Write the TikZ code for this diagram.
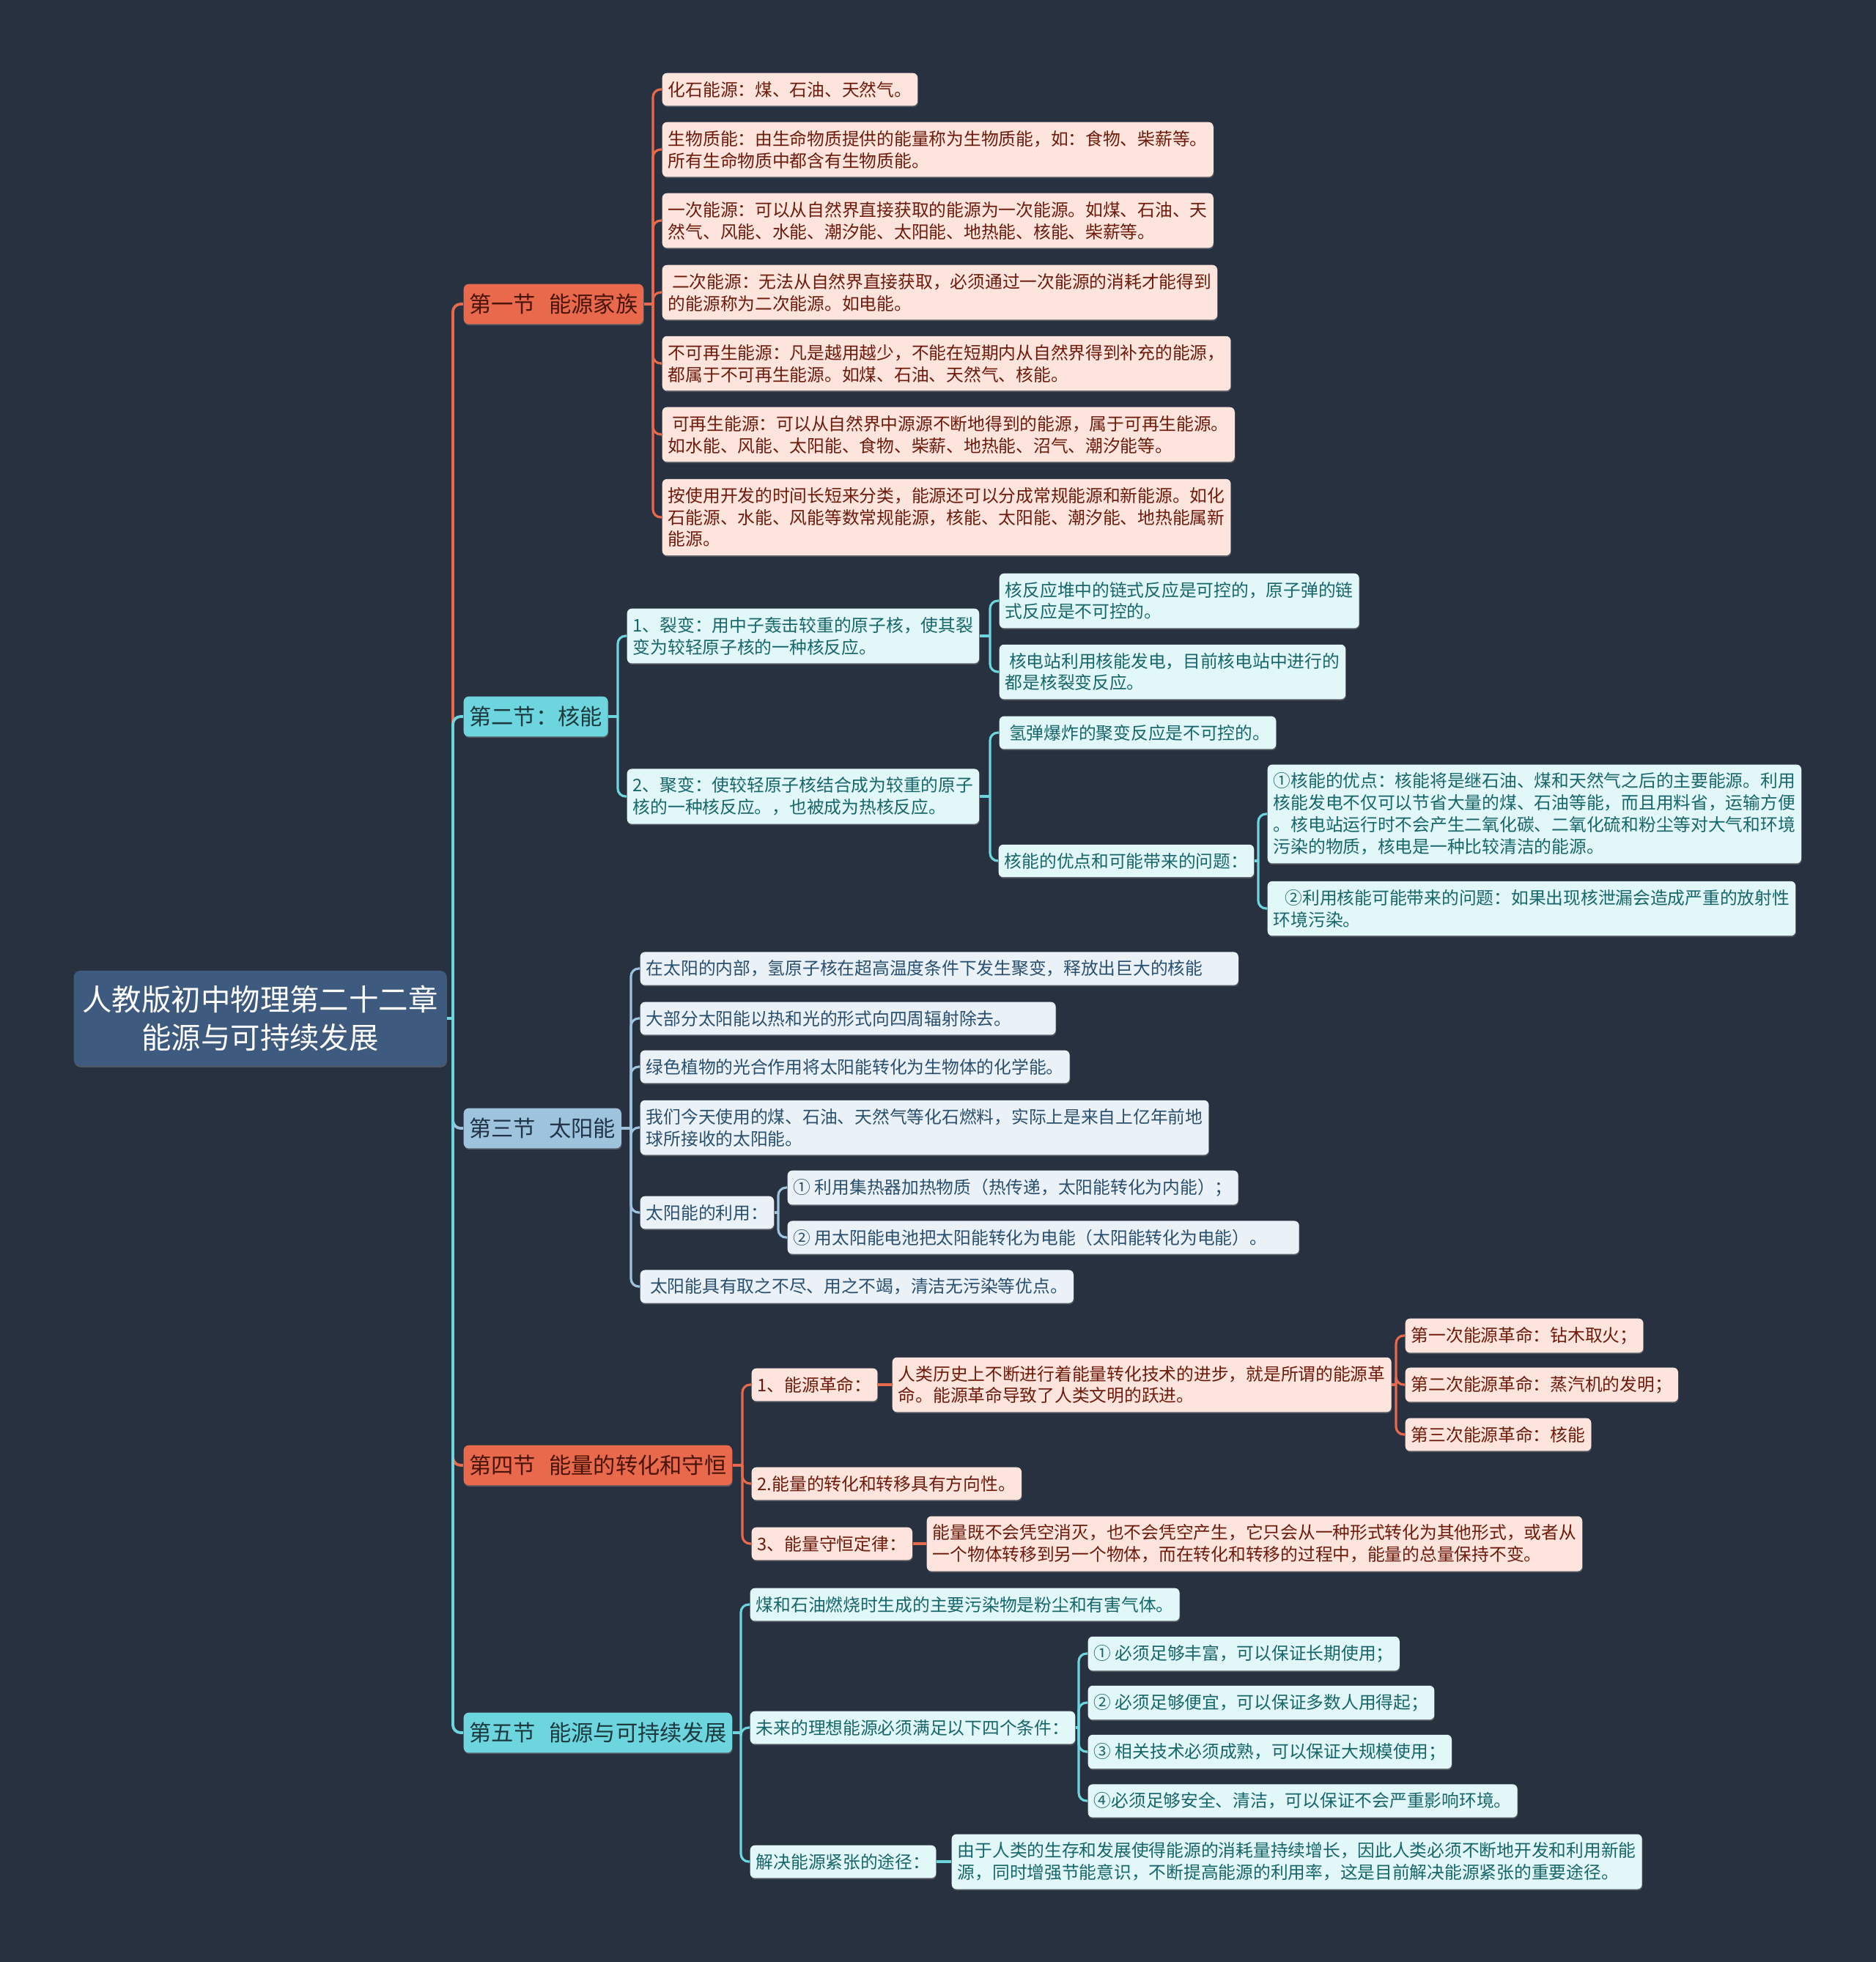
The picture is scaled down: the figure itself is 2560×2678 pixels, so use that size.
\documentclass[tikz,border=0pt]{standalone}
\usepackage{fontspec}
\newfontfamily\cjk{Noto Sans CJK SC}
\usepackage{tikz}
\usetikzlibrary{shadows}
\definecolor{bgdark}{HTML}{283140}
\definecolor{rootblue}{HTML}{3E5A7E}
\definecolor{secorange}{HTML}{E8694B}
\definecolor{leaforange}{HTML}{FDE4DC}
\definecolor{txtorange}{HTML}{6E1B0C}
\definecolor{sectxtorange}{HTML}{4A1408}
\definecolor{secteal}{HTML}{6DD5DE}
\definecolor{leafteal}{HTML}{E2F7F8}
\definecolor{txtteal}{HTML}{17666B}
\definecolor{sectxtteal}{HTML}{1C3A40}
\definecolor{secgrey}{HTML}{9DC3DD}
\definecolor{leafgrey}{HTML}{EAF2F8}
\definecolor{txtgrey}{HTML}{2A4F6E}
\definecolor{sectxtgrey}{HTML}{213447}

\begin{document}
\begin{tikzpicture}[x=0.01cm, y=-0.01cm,
        leafbox/.style={anchor=west, align=left, rounded corners=1.8pt, inner xsep=2.3pt, inner ysep=3.2pt,
            font=\cjk\fontsize{6.75}{8.5}\selectfont,
            drop shadow={shadow xshift=0.2pt, shadow yshift=-0.5pt, opacity=0.5}},
        leafO/.style={leafbox, fill=leaforange, text=txtorange},
        leafT/.style={leafbox, fill=leafteal, text=txtteal},
        leafG/.style={leafbox, fill=leafgrey, text=txtgrey},
        secbox/.style={anchor=west, rounded corners=2pt, inner xsep=2.2pt, inner ysep=3.8pt,
            font=\cjk\fontsize{8.6}{10}\selectfont,
            drop shadow={shadow xshift=0.2pt, shadow yshift=-0.5pt, opacity=0.5}},
        secO/.style={secbox, fill=secorange, text=sectxtorange},
        secT/.style={secbox, fill=secteal, text=sectxtteal},
        secG/.style={secbox, fill=secgrey, text=sectxtgrey},
        lineO/.style={draw=secorange, line width=0.9pt, rounded corners=3pt},
        lineT/.style={draw=secteal, line width=0.9pt, rounded corners=3pt},
        lineG/.style={draw=secgrey, line width=0.9pt, rounded corners=3pt},
    ]
        % Background
        \fill[bgdark] (0,0) rectangle (2560,2678);
        \useasboundingbox (0,0) rectangle (2560,2678);

        % Root topic
        \node[anchor=west, align=center, rounded corners=2.5pt, fill=rootblue, text=white,
            minimum width=5.08cm, minimum height=1.3cm, font=\cjk\fontsize{11.5}{15}\selectfont,
            drop shadow={shadow xshift=0.2pt, shadow yshift=-0.5pt, opacity=0.5}]
            (root) at (100,1390) {人教版初中物理第二十二章\\能源与可持续发展};

        % Sections
        \node[secO] (s1) at (632,415) {第一节\hspace{.6em}能源家族};
        \node[secT] (s2) at (632,978) {第二节：核能};
        \node[secG] (s3) at (632,1540) {第三节\hspace{.6em}太阳能};
        \node[secO] (s4) at (632,2000) {第四节\hspace{.6em}能量的转化和守恒};
        \node[secT] (s5) at (632,2365) {第五节\hspace{.6em}能源与可持续发展};

        % Section 1: energy family
        \node[leafO] (a1) at (903,122) {化石能源：煤、石油、天然气。};
        \node[leafO] (a2) at (903,204) {生物质能：由生命物质提供的能量称为生物质能，如：食物、柴薪等。\\所有生命物质中都含有生物质能。};
        \node[leafO] (a3) at (903,301) {一次能源：可以从自然界直接获取的能源为一次能源。如煤、石油、天\\然气、风能、水能、潮汐能、太阳能、地热能、核能、柴薪等。};
        \node[leafO] (a4) at (903,399) {~二次能源：无法从自然界直接获取，必须通过一次能源的消耗才能得到\\的能源称为二次能源。如电能。};
        \node[leafO] (a5) at (903,496) {不可再生能源：凡是越用越少，不能在短期内从自然界得到补充的能源，\\都属于不可再生能源。如煤、石油、天然气、核能。};
        \node[leafO] (a6) at (903,593) {~可再生能源：可以从自然界中源源不断地得到的能源，属于可再生能源。\\如水能、风能、太阳能、食物、柴薪、地热能、沼气、潮汐能等。};
        \node[leafO] (a7) at (903,706) {按使用开发的时间长短来分类，能源还可以分成常规能源和新能源。如化\\石能源、水能、风能等数常规能源，核能、太阳能、潮汐能、地热能属新\\能源。};

        % Section 2: nuclear energy
        \node[leafT] (n1) at (855,868) {1、裂变：用中子轰击较重的原子核，使其裂\\变为较轻原子核的一种核反应。};
        \node[leafT] (n1a) at (1363,820) {核反应堆中的链式反应是可控的，原子弹的链\\式反应是不可控的。};
        \node[leafT] (n1b) at (1363,917) {~核电站利用核能发电，目前核电站中进行的\hspace{.6em}\\都是核裂变反应。};
        \node[leafT] (n2) at (855,1087) {2、聚变：使较轻原子核结合成为较重的原子\\核的一种核反应。，也被成为热核反应。};
        \node[leafT] (n2a) at (1363,1000) {~氢弹爆炸的聚变反应是不可控的。};
        \node[leafT] (n2b) at (1362,1175) {核能的优点和可能带来的问题：};
        \node[leafT] (n2b1) at (1729,1111) {①核能的优点：核能将是继石油、煤和天然气之后的主要能源。利用\\核能发电不仅可以节省大量的煤、石油等能，而且用料省，运输方便\\。核电站运行时不会产生二氧化碳、二氧化硫和粉尘等对大气和环境\\污染的物质，核电是一种比较清洁的能源。};
        \node[leafT] (n2b2) at (1729,1240) {~~~②利用核能可能带来的问题：如果出现核泄漏会造成严重的放射性\\环境污染。};

        % Section 3: solar energy
        \node[leafG] (t1) at (873,1322) {在太阳的内部，氢原子核在超高温度条件下发生聚变，释放出巨大的核能\hspace{1.7em}};
        \node[leafG] (t2) at (873,1390) {大部分太阳能以热和光的形式向四周辐射除去。\hspace{2.2em}};
        \node[leafG] (t3) at (873,1456) {绿色植物的光合作用将太阳能转化为生物体的化学能。};
        \node[leafG] (t4) at (873,1539) {我们今天使用的煤、石油、天然气等化石燃料，实际上是来自上亿年前地\\球所接收的太阳能。};
        \node[leafG] (t5) at (873,1655) {太阳能的利用：};
        \node[leafG] (t5a) at (1074,1621) {① 利用集热器加热物质（热传递，太阳能转化为内能）；};
        \node[leafG] (t5b) at (1074,1689) {② 用太阳能电池把太阳能转化为电能（太阳能转化为电能）。\hspace{1.5em}};
        \node[leafG] (t6) at (873,1756) {~太阳能具有取之不尽、用之不竭，清洁无污染等优点。};

        % Section 4: conversion and conservation
        \node[leafO] (f1) at (1025,1890) {1、能源革命：};
        \node[leafO] (f1a) at (1217,1890) {人类历史上不断进行着能量转化技术的进步，就是所谓的能源革\\命。能源革命导致了人类文明的跃进。};
        \node[leafO] (f1a1) at (1917,1823) {第一次能源革命：钻木取火；};
        \node[leafO] (f1a2) at (1917,1890) {第二次能源革命：蒸汽机的发明；};
        \node[leafO] (f1a3) at (1917,1958) {第三次能源革命：核能};
        \node[leafO] (f2) at (1025,2025) {2.能量的转化和转移具有方向性。};
        \node[leafO] (f3) at (1025,2107) {3、能量守恒定律：};
        \node[leafO] (f3a) at (1264,2107) {能量既不会凭空消灭，也不会凭空产生，它只会从一种形式转化为其他形式，或者从\\一个物体转移到另一个物体，而在转化和转移的过程中，能量的总量保持不变。};

        % Section 5: sustainable development
        \node[leafT] (g1) at (1023,2190) {煤和石油燃烧时生成的主要污染物是粉尘和有害气体。};
        \node[leafT] (g2) at (1023,2358) {未来的理想能源必须满足以下四个条件：};
        \node[leafT] (g2a) at (1484,2257) {① 必须足够丰富，可以保证长期使用；};
        \node[leafT] (g2b) at (1484,2324) {② 必须足够便宜，可以保证多数人用得起；};
        \node[leafT] (g2c) at (1484,2391) {③ 相关技术必须成熟，可以保证大规模使用；};
        \node[leafT] (g2d) at (1484,2458) {④必须足够安全、清洁，可以保证不会严重影响环境。};
        \node[leafT] (g3) at (1023,2541) {解决能源紧张的途径：};
        \node[leafT] (g3a) at (1298,2541) {由于人类的生存和发展使得能源的消耗量持续增长，因此人类必须不断地开发和利用新能\\源，同时增强节能意识，不断提高能源的利用率，这是目前解决能源紧张的重要途径。};

        % Junctions
        \path (root.east -| s1.west) ++(-14,0) coordinate (rj);
        \path (s1.east -| a1.west) ++(-12,0) coordinate (s1j);
        \path (s2.east -| n1.west) ++(-12,0) coordinate (s2j);
        \path (n1.east -| n1a.west) ++(-12,0) coordinate (n1j);
        \path (n2.east -| n2a.west) ++(-12,0) coordinate (n2j);
        \path (n2b.east -| n2b1.west) ++(-12,0) coordinate (n2bj);
        \path (s3.east -| t1.west) ++(-12,0) coordinate (s3j);
        \path (t5.east -| t5a.west) ++(-12,0) coordinate (t5j);
        \path (s4.east -| f1.west) ++(-12,0) coordinate (s4j);
        \path (f1a.east -| f1a1.west) ++(-12,0) coordinate (f1aj);
        \path (s5.east -| g1.west) ++(-12,0) coordinate (s5j);
        \path (g2.east -| g2a.west) ++(-12,0) coordinate (g2j);

        % Root to sections
        \foreach \k/\c in {s1/lineO, s3/lineG, s4/lineO, s2/lineT, s5/lineT}
            \draw[\c, line width=1.1pt] (rj) |- (\k.west);
        \draw[lineT, line width=1.1pt] (root.east) -- (rj);

        % Section 1 connectors
        \draw[lineO] (s1.east) -- (s1j);
        \foreach \k in {a1,a2,a3,a4,a5,a6,a7} \draw[lineO] (s1j) |- (\k.west);

        % Section 2 connectors
        \draw[lineT] (s2.east) -- (s2j);
        \foreach \k in {n1,n2} \draw[lineT] (s2j) |- (\k.west);
        \draw[lineT] (n1.east) -- (n1j);
        \foreach \k in {n1a,n1b} \draw[lineT] (n1j) |- (\k.west);
        \draw[lineT] (n2.east) -- (n2j);
        \foreach \k in {n2a,n2b} \draw[lineT] (n2j) |- (\k.west);
        \draw[lineT] (n2b.east) -- (n2bj);
        \foreach \k in {n2b1,n2b2} \draw[lineT] (n2bj) |- (\k.west);

        % Section 3 connectors
        \draw[lineG] (s3.east) -- (s3j);
        \foreach \k in {t1,t2,t3,t4,t5,t6} \draw[lineG] (s3j) |- (\k.west);
        \draw[lineG] (t5.east) -- (t5j);
        \foreach \k in {t5a,t5b} \draw[lineG] (t5j) |- (\k.west);

        % Section 4 connectors
        \draw[lineO] (s4.east) -- (s4j);
        \foreach \k in {f1,f2,f3} \draw[lineO] (s4j) |- (\k.west);
        \draw[lineO] (f1.east) -- (f1a.west);
        \draw[lineO] (f1a.east) -- (f1aj);
        \foreach \k in {f1a1,f1a2,f1a3} \draw[lineO] (f1aj) |- (\k.west);
        \draw[lineO] (f3.east) -- (f3a.west);

        % Section 5 connectors
        \draw[lineT] (s5.east) -- (s5j);
        \foreach \k in {g1,g2,g3} \draw[lineT] (s5j) |- (\k.west);
        \draw[lineT] (g2.east) -- (g2j);
        \foreach \k in {g2a,g2b,g2c,g2d} \draw[lineT] (g2j) |- (\k.west);
        \draw[lineT] (g3.east) -- (g3a.west);
    \end{tikzpicture}
\end{document}
